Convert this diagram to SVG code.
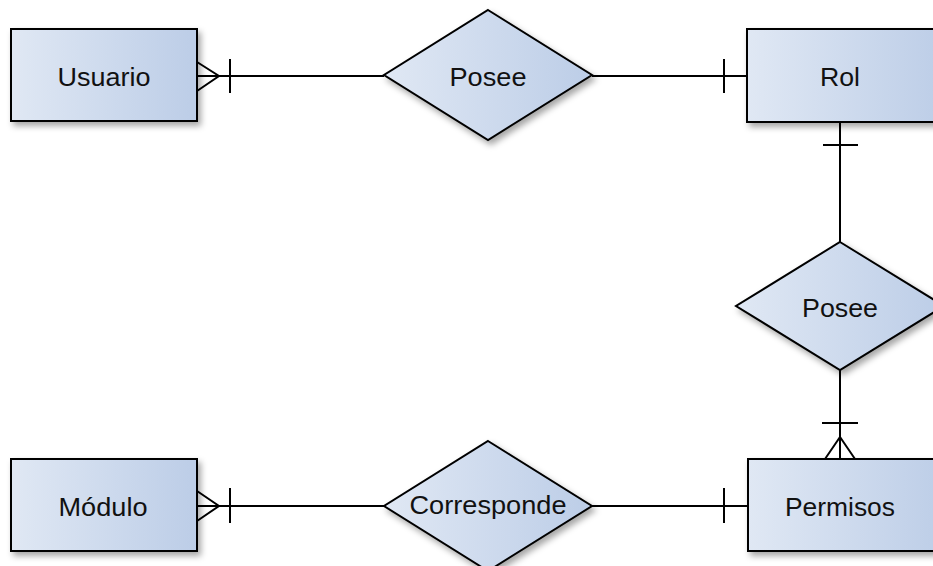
<svg xmlns="http://www.w3.org/2000/svg" width="933" height="566" viewBox="0 0 933 566">
<defs>
<linearGradient id="g" x1="0" y1="0" x2="1" y2="0">
<stop offset="0" stop-color="#e0e8f4"/>
<stop offset="1" stop-color="#bccde7"/>
</linearGradient>
<filter id="sh" x="-10%" y="-10%" width="130%" height="140%">
<feDropShadow dx="3" dy="4" stdDeviation="3" flood-color="#000" flood-opacity="0.35"/>
</filter>
</defs>
<style>
.shape{fill:url(#g);stroke:#000;stroke-width:2;filter:url(#sh)}
.lbl{font-family:"Liberation Sans",Arial,sans-serif;font-size:25px;fill:#111;text-anchor:middle}
.c{fill:none;stroke:#000;stroke-width:2}
</style>
<rect width="933" height="566" fill="#fff"/>
<g id="connectors" class="c">
<path d="M197,76H384"/>
<path d="M197,62L219,76L197,91"/>
<path d="M230,59V93"/>
<path d="M592,76H747"/>
<path d="M724,59V93"/>
<path d="M840,122V242"/>
<path d="M823,145H858"/>
<path d="M840,370V459"/>
<path d="M822,423H858"/>
<path d="M825,459L840,437L855,459"/>
<path d="M197,506H384"/>
<path d="M197,491L219,506L197,521"/>
<path d="M230,488V523"/>
<path d="M592,506H748"/>
<path d="M724,488V523"/>
</g>
<g id="usuario">
<rect class="shape" x="11" y="29" width="186" height="92"/>
<text class="lbl" x="104" y="86" textLength="93" lengthAdjust="spacingAndGlyphs">Usuario</text>
</g>
<g id="posee1">
<polygon class="shape" points="488,10 592,75 488,140 384,75"/>
<text class="lbl" x="488" y="86" textLength="77" lengthAdjust="spacingAndGlyphs">Posee</text>
</g>
<g id="rol">
<rect class="shape" x="747" y="29" width="200" height="93"/>
<text class="lbl" x="840" y="86" textLength="40" lengthAdjust="spacingAndGlyphs">Rol</text>
</g>
<g id="posee2">
<polygon class="shape" points="840,242 944,306 840,370 736,306"/>
<text class="lbl" x="840" y="317" textLength="76" lengthAdjust="spacingAndGlyphs">Posee</text>
</g>
<g id="modulo">
<rect class="shape" x="11" y="459" width="186" height="92"/>
<text class="lbl" x="103" y="516" textLength="89" lengthAdjust="spacingAndGlyphs">Módulo</text>
</g>
<g id="corresponde">
<polygon class="shape" points="488,441 592,506 488,571 384,506"/>
<text class="lbl" x="488" y="514" textLength="157" lengthAdjust="spacingAndGlyphs">Corresponde</text>
</g>
<g id="permisos">
<rect class="shape" x="748" y="459" width="200" height="92"/>
<text class="lbl" x="840" y="516" textLength="110" lengthAdjust="spacingAndGlyphs">Permisos</text>
</g>
</svg>
